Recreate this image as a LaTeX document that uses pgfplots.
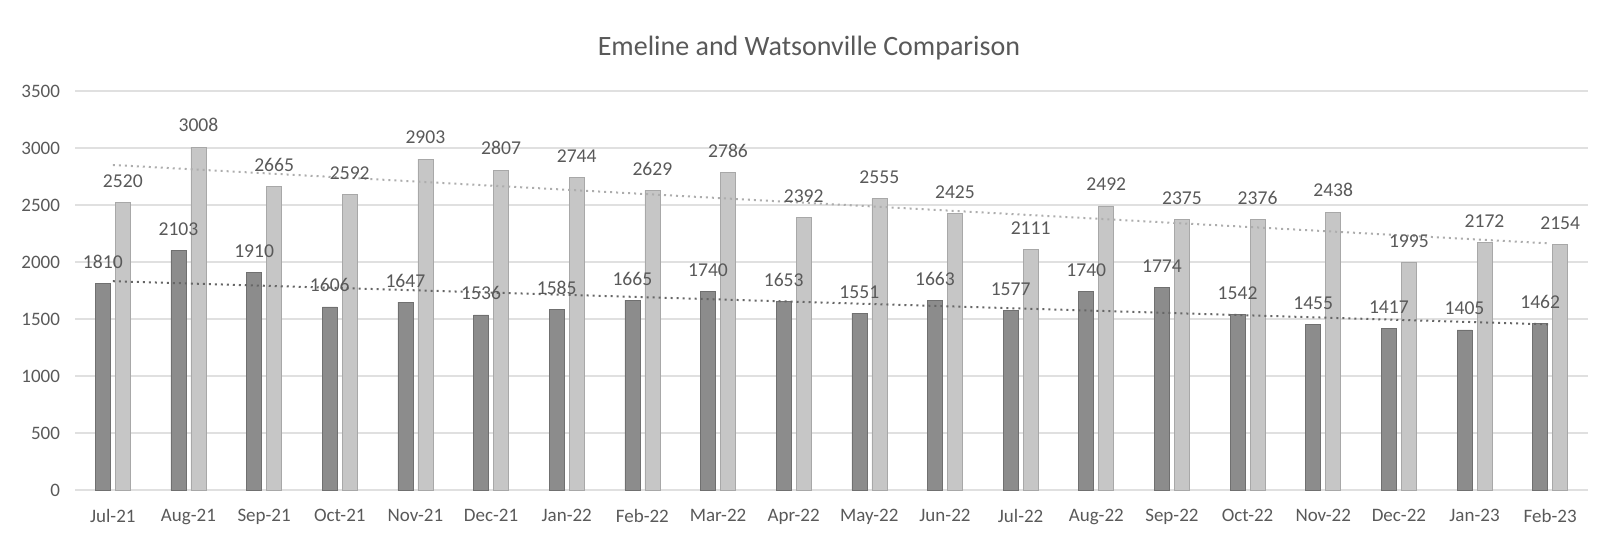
\documentclass[border=0pt]{standalone}
\usepackage{fontspec}
\setmainfont{Carlito}
\usepackage{pgfplots}
\pgfplotsset{compat=1.18}
\definecolor{darkbar}{HTML}{8C8C8C}
\definecolor{lightbar}{HTML}{C6C6C6}
\definecolor{txt}{HTML}{595959}
\definecolor{gridc}{HTML}{E0E0E0}
\begin{document}
\begin{tikzpicture}
\path[use as bounding box] (0,0) rectangle (800.5pt,268.5pt);
\node[font=\fontsize{14}{16}\selectfont, text=txt] at (404.5pt,244.5pt) {Emeline and Watsonville Comparison};
\begin{axis}[
  at={(37.5pt,23.5pt)}, anchor=south west,
  scale only axis, width=756.5pt, height=199.5pt,
  xmin=-0.5, xmax=19.5, ymin=0, ymax=3500,
  ytick={0,500,...,3500},
  xtick={0,...,19},
  xticklabels={Jul-21,Aug-21,Sep-21,Oct-21,Nov-21,Dec-21,Jan-22,Feb-22,Mar-22,Apr-22,May-22,Jun-22,Jul-22,Aug-22,Sep-22,Oct-22,Nov-22,Dec-22,Jan-23,Feb-23},
  ymajorgrids, grid style={gridc, line width=0.6pt},
  axis line style={draw=none},
  major tick length=0pt,
  tick label style={font=\fontsize{9.5}{11}\selectfont, text=txt},
  /pgf/number format/assume math mode=true,
  /pgf/number format/1000 sep={},
  yticklabel style={xshift=-4pt},
  xticklabel style={yshift=-6pt},
  ybar=2.5pt, bar width=7.5pt,
  clip=false,
]
\addplot[fill=darkbar, draw=darkbar!80!black, line width=0.3pt,
  nodes near coords, every node near coord/.append style={font=\fontsize{9.8}{11}\selectfont, text=txt, yshift=4pt}]
  coordinates {(0,1810) (1,2103) (2,1910) (3,1606) (4,1647) (5,1536) (6,1585) (7,1665) (8,1740) (9,1653) (10,1551) (11,1663) (12,1577) (13,1740) (14,1774) (15,1542) (16,1455) (17,1417) (18,1405) (19,1462)};
\addplot[fill=lightbar, draw=lightbar!85!black, line width=0.3pt,
  nodes near coords, every node near coord/.append style={font=\fontsize{9.8}{11}\selectfont, text=txt, yshift=4pt}]
  coordinates {(0,2520) (1,3008) (2,2665) (3,2592) (4,2903) (5,2807) (6,2744) (7,2629) (8,2786) (9,2392) (10,2555) (11,2425) (12,2111) (13,2492) (14,2375) (15,2376) (16,2438) (17,1995) (18,2172) (19,2154)};
\addplot[sharp plot, draw=black!60, line width=1pt, dotted, forget plot] coordinates {(0,1831.6) (19,1452.5)};
\addplot[sharp plot, draw=black!32, line width=1pt, dotted, forget plot] coordinates {(0,2851.1) (19,2162.8)};
\end{axis}
\end{tikzpicture}
\end{document}
